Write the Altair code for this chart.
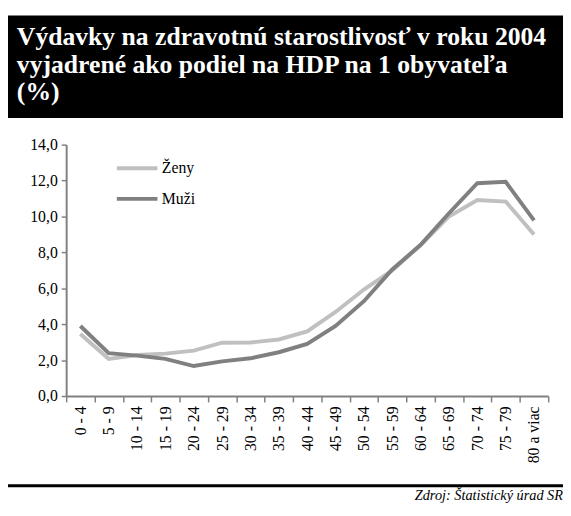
import altair as alt
import pandas as pd

categories = ["0 - 4", "5 - 9", "10 - 14", "15 - 19", "20 - 24", "25 - 29", "30 - 34",
              "35 - 39", "40 - 44", "45 - 49", "50 - 54", "55 - 59", "60 - 64",
              "65 - 69", "70 - 74", "75 - 79", "80 a viac"]
zeny = [3.45, 2.07, 2.28, 2.36, 2.53, 2.97, 2.98, 3.15, 3.6, 4.68, 5.93, 7.0, 8.4,
        10.0, 10.92, 10.83, 9.0]
muzi = [3.9, 2.39, 2.25, 2.07, 1.67, 1.93, 2.1, 2.44, 2.9, 3.9, 5.28, 7.05, 8.42,
        10.18, 11.85, 11.93, 9.78]
series_names = ["Ženy", "Muži"]
series_colors = ["#c0c0c0", "#808080"]
title_lines = ["Výdavky na zdravotnú starostlivosť v roku 2004",
               "vyjadrené ako podiel na HDP na 1 obyvateľa",
               "(%)"]
source_text = "Zdroj: Štatistický úrad SR"

rows = []
for name, vals in zip(series_names, [zeny, muzi]):
    for c, v in zip(categories, vals):
        rows.append({"age": c, "series": name, "value": v})
df = pd.DataFrame(rows)

FONT = "Liberation Serif"
W, H = 489, 255
PL, PT, PR, PB = 59, 135, 15, 112

lines = alt.Chart(df).mark_line(strokeWidth=4).encode(
    x=alt.X("age:N", sort=categories,
            scale=alt.Scale(type="band", paddingInner=0, paddingOuter=0),
            axis=alt.Axis(title=None, labelAngle=-90, tickBand="extent",
                          labelFont=FONT, labelFontSize=16, labelColor="black",
                          labelAlign="right", labelBaseline="middle", labelPadding=4,
                          domainColor="#808080", domainWidth=2, tickColor="#808080",
                          tickWidth=1.5, tickSize=6)),
    y=alt.Y("value:Q", scale=alt.Scale(domain=[0, 14], nice=False),
            axis=alt.Axis(title=None, values=list(range(0, 15, 2)), grid=False,
                          labelExpr="replace(format(datum.value, '.1f'), '.', ',')",
                          labelFont=FONT, labelFontSize=16, labelColor="black",
                          labelPadding=4,
                          domainColor="#808080", domainWidth=2, tickColor="#808080",
                          tickWidth=1.5, tickSize=5)),
    color=alt.Color("series:N", sort=series_names,
                    scale=alt.Scale(domain=series_names, range=series_colors),
                    legend=alt.Legend(title=None, orient="none", legendX=49, legendY=1,
                                      symbolType="stroke", symbolSize=1700,
                                      symbolStrokeWidth=4, labelFont=FONT,
                                      labelFontSize=16, labelColor="black",
                                      rowPadding=-10, labelOffset=2)),
)

dummy = pd.DataFrame({"a": [0]})
box = alt.Chart(dummy).mark_rect(color="black").encode(
    x=alt.value(-PL - 3), x2=alt.value(W + PR), y=alt.value(-131), y2=alt.value(-27))
title = alt.Chart(dummy).mark_text(
    align="left", baseline="alphabetic", font=FONT, fontWeight="bold",
    fontSize=26, color="white", lineHeight=28).encode(
    x=alt.value(-50), y=alt.value(-101), text=alt.value(title_lines))
rule = alt.Chart(dummy).mark_rule(color="black", strokeWidth=3).encode(
    x=alt.value(-PL - 3), x2=alt.value(W + PR), y=alt.value(346))
source = alt.Chart(dummy).mark_text(
    align="right", baseline="alphabetic", font=FONT, fontStyle="italic",
    fontSize=14.5, color="black").encode(
    x=alt.value(W + 15), y=alt.value(360), text=alt.value(source_text))

chart = alt.layer(box, title, lines, rule, source).properties(
    width=W, height=H,
    autosize=alt.AutoSizeParams(type="none"),
    padding={"left": PL, "top": PT, "right": PR, "bottom": PB},
).configure_view(stroke=None)

chart.save("out.html", embed_options={"renderer": "svg", "actions": False})
